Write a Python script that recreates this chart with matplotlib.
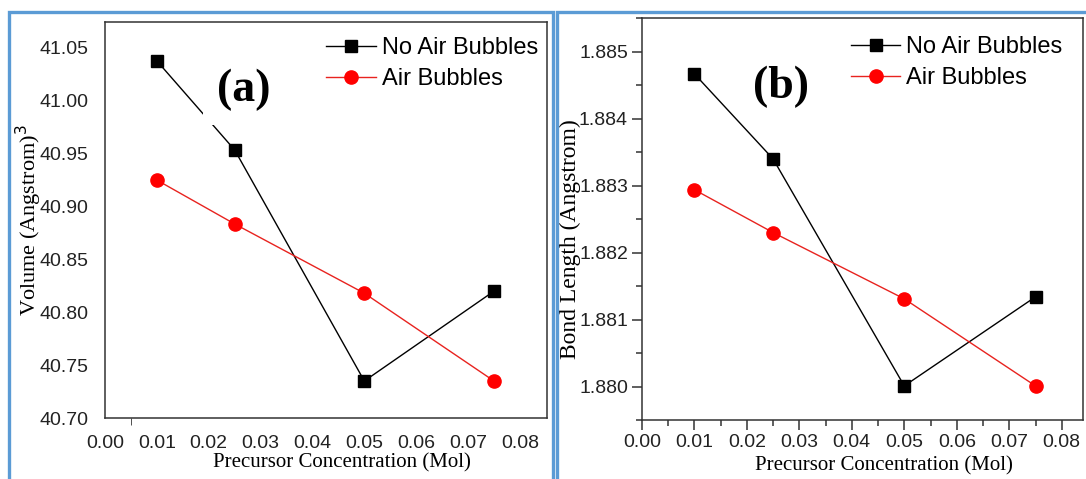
import numpy as np
import matplotlib.pyplot as plt
from matplotlib.patches import Rectangle
from matplotlib.ticker import MultipleLocator, FormatStrFormatter

# precursor concentration (Mol)
conc = [0.01, 0.025, 0.05, 0.075]

# (a) unit cell volume
vol_no_air = [41.0377, 40.9535, 40.735, 40.820]
vol_air = [40.925, 40.8835, 40.818, 40.735]

# (b) bond length
bond_no_air = [1.88467, 1.88340, 1.88001, 1.88134]
bond_air = [1.88294, 1.88230, 1.88131, 1.88001]

x_ticks = [0.00, 0.01, 0.02, 0.03, 0.04, 0.05, 0.06, 0.07, 0.08]
vol_ticks = [40.70, 40.75, 40.80, 40.85, 40.90, 40.95, 41.00, 41.05]
bond_ticks = [1.880, 1.881, 1.882, 1.883, 1.884, 1.885]

SANS = "Liberation Sans"
SERIF = "Liberation Serif"
BLUE = "#5b9bd5"

fig = plt.figure(figsize=(10.86, 4.79), dpi=100)

# blue panel frames
for x0, x1 in [(0.0085, 0.509), (0.5125, 1.01)]:
    fig.patches.append(Rectangle((x0, -0.05), x1 - x0, 1.025, transform=fig.transFigure,
                                 fill=False, edgecolor=BLUE, linewidth=2.4))

ax1 = fig.add_axes([0.0967, 0.1273, 0.4069, 0.827])
ax2 = fig.add_axes([0.591, 0.123, 0.406, 0.839])


def draw_series(ax, y_black, y_red, leg_x, leg_y):
    ax.plot(conc, y_black, color="black", lw=1.0, marker="s", ms=8.5,
            label="No Air Bubbles", zorder=3)
    ax.plot(conc, y_red, color="#e8231f", lw=1.0, marker="o", ms=9.5,
            mfc="#ff0000", mec="#ff0000", label="Air Bubbles", zorder=3)
    ax.legend(loc="upper left", bbox_to_anchor=(leg_x, leg_y), frameon=False,
              prop={"family": SANS, "size": 17}, handlelength=2.1,
              handletextpad=0.25, labelspacing=0.38, borderaxespad=0, borderpad=0)
    for s in ax.spines.values():
        s.set_color("#333333")
        s.set_linewidth(1.1)
    ax.set_xticks(x_ticks)
    ax.xaxis.set_major_formatter(FormatStrFormatter("%.2f"))
    for lab in ax.get_xticklabels():
        lab.set_family(SANS)
        lab.set_fontsize(14)
        lab.set_color("#222222")


# (a) volume
draw_series(ax1, vol_no_air, vol_air, 0.501, 0.962)
ax1.set_xlim(0, 0.0852)
ax1.set_ylim(40.70, 41.0746)
ax1.set_yticks(vol_ticks)
ax1.yaxis.set_major_formatter(FormatStrFormatter("%.2f"))
for lab in ax1.get_yticklabels():
    lab.set_family(SANS)
    lab.set_fontsize(14)
    lab.set_color("#222222")
ax1.tick_params(axis="both", which="major", length=0, pad=12)
ax1.set_xticks([0.005], minor=True)
ax1.tick_params(axis="x", which="minor", length=5, direction="out", color="#333333")
ax1.set_xlabel("Precursor Concentration (Mol)", family=SERIF, fontsize=15)
ax1.xaxis.set_label_coords(0.536, -0.09)
ax1.set_ylabel(r"Volume (Angstrom)$^{3}$", family=SERIF, fontsize=16)
ax1.yaxis.set_label_coords(-0.138, 0.5)
ax1.text(0.314, 0.828, "(a)", transform=ax1.transAxes, family=SERIF, fontsize=33,
         fontweight="bold", ha="center", va="center", zorder=4,
         bbox=dict(facecolor="white", edgecolor="none", pad=10))

# (b) bond length
draw_series(ax2, bond_no_air, bond_air, 0.474, 0.955)
ax2.set_xlim(0, 0.084)
ax2.set_ylim(1.8795, 1.8855)
ax2.set_yticks(bond_ticks)
ax2.yaxis.set_major_formatter(FormatStrFormatter("%.3f"))
for lab in ax2.get_yticklabels():
    lab.set_family(SANS)
    lab.set_fontsize(14)
    lab.set_color("#222222")
ax2.xaxis.set_minor_locator(MultipleLocator(0.005))
ax2.yaxis.set_minor_locator(MultipleLocator(0.0005))
ax2.tick_params(axis="both", which="major", length=7, width=1.1, direction="out",
                color="#333333", pad=3)
ax2.tick_params(axis="both", which="minor", length=4, width=1.1, direction="out",
                color="#333333")
ax2.set_xlabel("Precursor Concentration (Mol)", family=SERIF, fontsize=15)
ax2.xaxis.set_label_coords(0.55, -0.09)
ax2.set_ylabel("Bond Length (Angstrom)", family=SERIF, fontsize=17)
ax2.yaxis.set_label_coords(-0.139, 0.45)
ax2.text(0.315, 0.828, "(b)", transform=ax2.transAxes, family=SERIF, fontsize=33,
         fontweight="bold", ha="center", va="center", zorder=4)

fig.savefig("out.png", dpi=100)
